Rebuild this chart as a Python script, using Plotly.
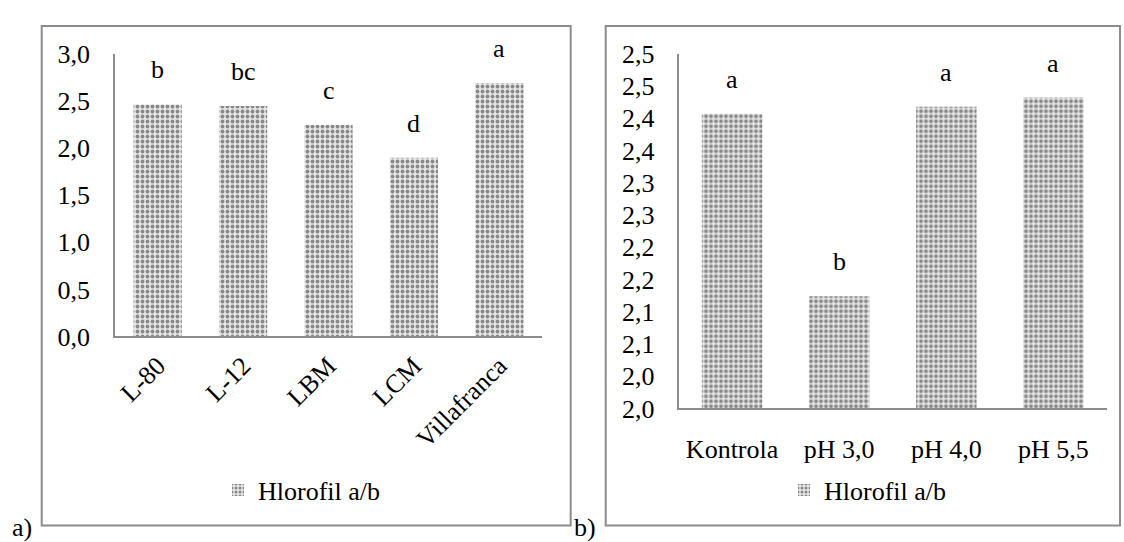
import plotly.graph_objects as go

# ---- data ----
cultivars = ["L-80", "L-12", "LBM", "LCM", "Villafranca"]
chl_ratio_a = [2.465, 2.447, 2.246, 1.899, 2.692]
letters_a = ["b", "bc", "c", "d", "a"]

treatments = ["Kontrola", "pH 3,0", "pH 4,0", "pH 5,5"]
chl_ratio_b = [2.457, 2.174, 2.468, 2.482]
letters_b = ["a", "b", "a", "a"]

ytickvals_b = [2.00, 2.05, 2.10, 2.15, 2.20, 2.25, 2.30, 2.35, 2.40, 2.45, 2.50, 2.55]
yticktext_b = ["2,0", "2,0", "2,1", "2,1", "2,2", "2,2", "2,3", "2,3", "2,4", "2,4", "2,5", "2,5"]

series_name = "Hlorofil a/b"

# ---- style ----
W, H = 1124, 542
FONT = "Liberation Serif"
FS = 26
GRAY = "#8c8c8c"
pattern = dict(shape=".", fgcolor="#2a2a2a", bgcolor="#e6e6e6", size=5, solidity=0.45)

def px(x):
    return x / W

def py(y):
    return 1 - y / H

fig = go.Figure()
fig.add_trace(go.Bar(
    x=cultivars, y=chl_ratio_a, name=series_name, xaxis="x", yaxis="y",
    marker=dict(color="#e6e6e6", pattern=pattern, line=dict(width=0)),
    legend="legend", showlegend=True,
))
fig.add_trace(go.Bar(
    x=treatments, y=chl_ratio_b, name=series_name, xaxis="x2", yaxis="y2",
    marker=dict(color="#e6e6e6", pattern=pattern, line=dict(width=0)),
    legend="legend2", showlegend=True,
))

annotations = []
for c, v, t in zip(cultivars, chl_ratio_a, letters_a):
    annotations.append(dict(x=c, y=v, xref="x", yref="y", text=t, showarrow=False,
                            yanchor="bottom", yshift=18, font=dict(family=FONT, size=FS, color="black")))
for c, v, t in zip(treatments, chl_ratio_b, letters_b):
    annotations.append(dict(x=c, y=v, xref="x2", yref="y2", text=t, showarrow=False,
                            yanchor="bottom", yshift=18, font=dict(family=FONT, size=FS, color="black")))
annotations.append(dict(x=px(21.5), y=py(543), xref="paper", yref="paper", text="a)", showarrow=False,
                        xanchor="center", yanchor="middle", font=dict(family=FONT, size=FS, color="black")))
annotations.append(dict(x=px(585), y=py(542), xref="paper", yref="paper", text="b)", showarrow=False,
                        xanchor="center", yanchor="middle", font=dict(family=FONT, size=FS, color="black")))

shapes = [
    dict(type="rect", xref="paper", yref="paper", x0=px(41.7), x1=px(570.7), y0=py(540.5), y1=py(12.7),
         line=dict(color=GRAY, width=2), layer="below"),
    dict(type="rect", xref="paper", yref="paper", x0=px(605.7), x1=px(1120), y0=py(540.5), y1=py(12.7),
         line=dict(color=GRAY, width=2), layer="below"),
]

tickfont = dict(family=FONT, size=FS, color="black")
fig.update_layout(
    width=W, height=H, margin=dict(l=0, r=0, t=0, b=0),
    paper_bgcolor="white", plot_bgcolor="white",
    separators=",.",
    bargap=0.435,
    font=dict(family=FONT, size=FS, color="black"),
    xaxis=dict(domain=[px(115), px(542)], anchor="y", showline=True, linecolor=GRAY, linewidth=1.5,
               showgrid=False, zeroline=False, ticks="", tickangle=-45, tickfont=tickfont,
               ticklabelstandoff=2),
    yaxis=dict(domain=[py(340.7), py(42.3)], anchor="x", range=[0, 3], dtick=0.5, tickformat=".1f",
               showline=True, linecolor=GRAY, linewidth=1.5, showgrid=False, zeroline=False,
               ticks="", tickfont=tickfont, ticklabelstandoff=18),
    xaxis2=dict(domain=[px(678.5), px(1107)], anchor="y2", showline=True, linecolor=GRAY, linewidth=1.5,
                showgrid=False, zeroline=False, ticks="", tickangle=0, tickfont=tickfont,
                ticklabelstandoff=17),
    yaxis2=dict(domain=[py(416.7), py(42)], anchor="x2", range=[2.0, 2.55], tickvals=ytickvals_b,
                ticktext=yticktext_b, showline=True, linecolor=GRAY, linewidth=1.5, showgrid=False,
                zeroline=False, ticks="", tickfont=tickfont, ticklabelstandoff=17),
    legend=dict(x=px(302), y=py(503), xanchor="center", yanchor="middle", bgcolor="rgba(0,0,0,0)",
                font=dict(family=FONT, size=FS, color="black")),
    legend2=dict(x=px(868), y=py(503), xanchor="center", yanchor="middle", bgcolor="rgba(0,0,0,0)",
                 font=dict(family=FONT, size=FS, color="black")),
    annotations=annotations,
    shapes=shapes,
)

fig.write_html("out.html")
